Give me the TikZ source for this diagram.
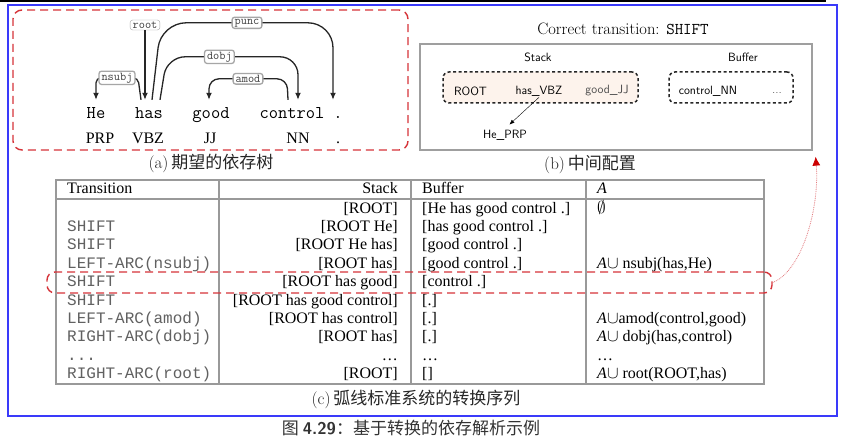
\documentclass[tikz,border=0pt]{standalone}
\usepackage{fontspec}
\usepackage{amssymb}
\newfontfamily\cjk{Noto Sans CJK SC}
\newfontfamily\tmsfont{Liberation Serif}
\newfontfamily\courfont{Liberation Mono}
\usetikzlibrary{arrows.meta,positioning}

\definecolor{hlred}{RGB}{214,52,58}
\definecolor{frameblue}{RGB}{58,58,250}
\definecolor{peach}{RGB}{253,243,236}

\begin{document}
\begin{tikzpicture}[
        x=1pt,
        y=-1pt,
        word/.style={anchor=base, inner xsep=1pt, inner ysep=7pt, text height=11pt, text depth=0pt,
            font=\fontsize{18}{20}\selectfont\ttfamily},
        tag/.style={anchor=base, inner sep=1pt, font=\fontsize{16}{18}\selectfont\tmsfont},
        deplabel/.style={draw=gray!70, fill=white, rounded corners=2.5pt, inner xsep=2.5pt, inner ysep=1.6pt,
            text=black!75, font=\fontsize{12}{13}\selectfont\ttfamily},
        arc/.style={-{Latex[length=7pt,width=6pt]}, line width=1.3pt, black!85},
        hilite/.style={draw=hlred, line width=1.4pt, dash pattern=on 8pt off 5pt, rounded corners=9pt},
        slot/.style={draw=black!85, line width=1.5pt, dash pattern=on 3pt off 2.5pt, rounded corners=6pt},
        item/.style={inner sep=1pt, font=\fontsize{12}{14}\selectfont\sffamily},
        cell/.style={inner sep=0pt, text height=10.5pt, text depth=0pt, font=\fontsize{16}{18}\selectfont\tmsfont},
        trans/.style={cell, anchor=west, text=black!62, font=\fontsize{16}{18}\selectfont\courfont},
        caption/.style={inner sep=0pt, text=black!85, font=\fontsize{17}{19}\selectfont},
        tablerule/.style={draw=gray!80, line width=1.1pt},
        link/.style={-{Latex[length=9pt,width=8pt,color=red!80!black]}, hlred!65, line width=0.8pt, densely dotted}
    ]
        \fill[white] (0,0) rectangle (850,441);
        \useasboundingbox (0,0) rectangle (850,441);
        \draw[line width=3pt] (0,1) -- (826,1);
        \draw[frameblue, line width=1.5pt] (8,5) rectangle (837,416);

        % (a) desired tree
        \node[hilite, minimum width=395pt, minimum height=140pt] (tree) at (210.5,80) {};
        \foreach \name/\x/\w/\t/\tx in {he/96/He/PRP/100,has/149/has/VBZ/148,good/211/good/JJ/210,control/292/control/NN/298,dot/338/././338} {
            \node[word] (w-\name) at (\x,118) {\w};
            \node[tag] (p-\name) at (\tx,143) {\t};
        }
        \draw[arc, rounded corners=5pt] ([xshift=-8pt]w-has.north) -- ++(-3,-22) coordinate (nsubj-r)
            -- node[deplabel] (l-nsubj) {nsubj} (w-he.north |- nsubj-r) -- (w-he.north);
        \draw[arc, rounded corners=25pt] ([xshift=3pt]w-has.north) -- ++(9,-77) coordinate (punc-l)
            -- node[deplabel] (l-punc) {punc} ([xshift=-5pt]w-dot.north |- punc-l) -- ([xshift=-5pt]w-dot.north);
        \draw[arc, rounded corners=18pt] ([xshift=11pt]w-has.north) -- ++(7,-43) coordinate (dobj-l)
            -- node[deplabel, pos=0.4] (l-dobj) {dobj} ([xshift=6pt]w-control.north |- dobj-l) -- ([xshift=6pt]w-control.north);
        \draw[arc, rounded corners=10pt] ([xshift=-4pt]w-control.north) -- ++(-1,-21) coordinate (amod-r)
            -- node[deplabel] (l-amod) {amod} ([xshift=-2pt]w-good.north |- amod-r) -- ([xshift=-2pt]w-good.north);
        \node[deplabel] (l-root) at (145,25) {root};
        \draw[arc] (l-root) -- ([xshift=-4pt]w-has.north);
        \node[caption] (cap-a) at (211,163) {(a)\,{\cjk 期望的依存树}};

        % (b) intermediate configuration
        \node[inner sep=0pt, font=\fontsize{16.5}{18}\selectfont] (title-b) at (623,29) {Correct transition: \texttt{SHIFT}};
        \node[draw=gray!75, line width=1.2pt, minimum width=392pt, minimum height=106pt] (cfg) at (616,97) {};
        \node[item] (h-stack) at (538,57) {Stack};
        \node[item] (h-buffer) at (743,57) {Buffer};
        \node[slot, fill=peach, minimum width=195pt, minimum height=31pt] (stk) at (540.5,87.5) {};
        \node[slot, fill=white, minimum width=124pt, minimum height=31pt] (buf) at (731,87.5) {};
        \node[item] (root) at (470.5,91) {ROOT};
        \node[item] (vbz) at (539,91) {has\_VBZ};
        \node[item, text=black!70] (jj) at (607,91) {good\_JJ};
        \node[item] (nn) at (708,91) {control\_NN};
        \node[item, text=black!60] (more) at (777,93) {...};
        \node[item] (prp) at (505,135) {He\_PRP};
        \draw[-{Latex[length=5pt,width=4pt]}, thin, shorten >=6pt] (vbz.south) -- (prp.north);
        \node[caption] (cap-b) at (590,164) {(b)\,{\cjk 中间配置}};

        % (c) transition sequence
        \draw[tablerule] (56,180) rectangle (764,384);
        \draw[tablerule] (56,199) -- (764,199);
        \foreach \x in {219,411,586} {
            \draw[tablerule] (\x,180) -- (\x,384);
        }
        \node[cell, anchor=west] (h-trans) at (67,188) {Transition};
        \node[cell, anchor=east] (h-st) at (398,188) {Stack};
        \node[cell, anchor=west] (h-bu) at (422,188) {Buffer};
        \node[cell, anchor=west] (h-a) at (597,188) {\textit{A}};
        \foreach \n/\tr/\st/\bu/\ar in {
            1/{}/{[ROOT]}/{[He has good control .]}/{$\emptyset$},
            2/SHIFT/{[ROOT He]}/{[has good control .]}/{},
            3/SHIFT/{[ROOT He has]}/{[good control .]}/{},
            4/LEFT-ARC(nsubj)/{[ROOT has]}/{[good control .]}/{\textit{A}$\cup$ nsubj(has,He)},
            5/SHIFT/{[ROOT has good]}/{[control .]}/{},
            6/SHIFT/{[ROOT has good control]}/{[.]}/{},
            7/LEFT-ARC(amod)/{[ROOT has control]}/{[.]}/{\textit{A}$\cup$amod(control,good)},
            8/RIGHT-ARC(dobj)/{[ROOT has]}/{[.]}/{\textit{A}$\cup$ dobj(has,control)},
            9/{...}/{\ldots}/{\ldots}/{\ldots},
            10/RIGHT-ARC(root)/{[ROOT]}/{[]}/{\textit{A}$\cup$ root(ROOT,has)}} {
            \pgfmathsetmacro\ry{208+18.35*(\n-1)}
            \node[trans] (t\n) at (67,\ry) {\tr};
            \node[cell, anchor=east] (s\n) at (398,\ry) {\st};
            \node[cell, anchor=west] (b\n) at (422,\ry) {\bu};
            \node[cell, anchor=west] (a\n) at (597,\ry) {\ar};
        }
        \node[hilite, rounded corners=8pt, minimum width=725pt, minimum height=21pt] (cur) at (409.5,282.5) {};
        \draw[link] (cur.east) .. controls +(30,-12) and +(4,50) .. ([xshift=3pt,yshift=-6pt]cfg.south east);
        \node[caption] (cap-c) at (416,399) {(c)\,{\cjk 弧线标准系统的转换序列}};

        \node[caption, text=black!80] (fig) at (411,428) {{\cjk 图 }{\sffamily\bfseries 4.29}{\cjk ：基于转换的依存解析示例}};
    \end{tikzpicture}
\end{document}
